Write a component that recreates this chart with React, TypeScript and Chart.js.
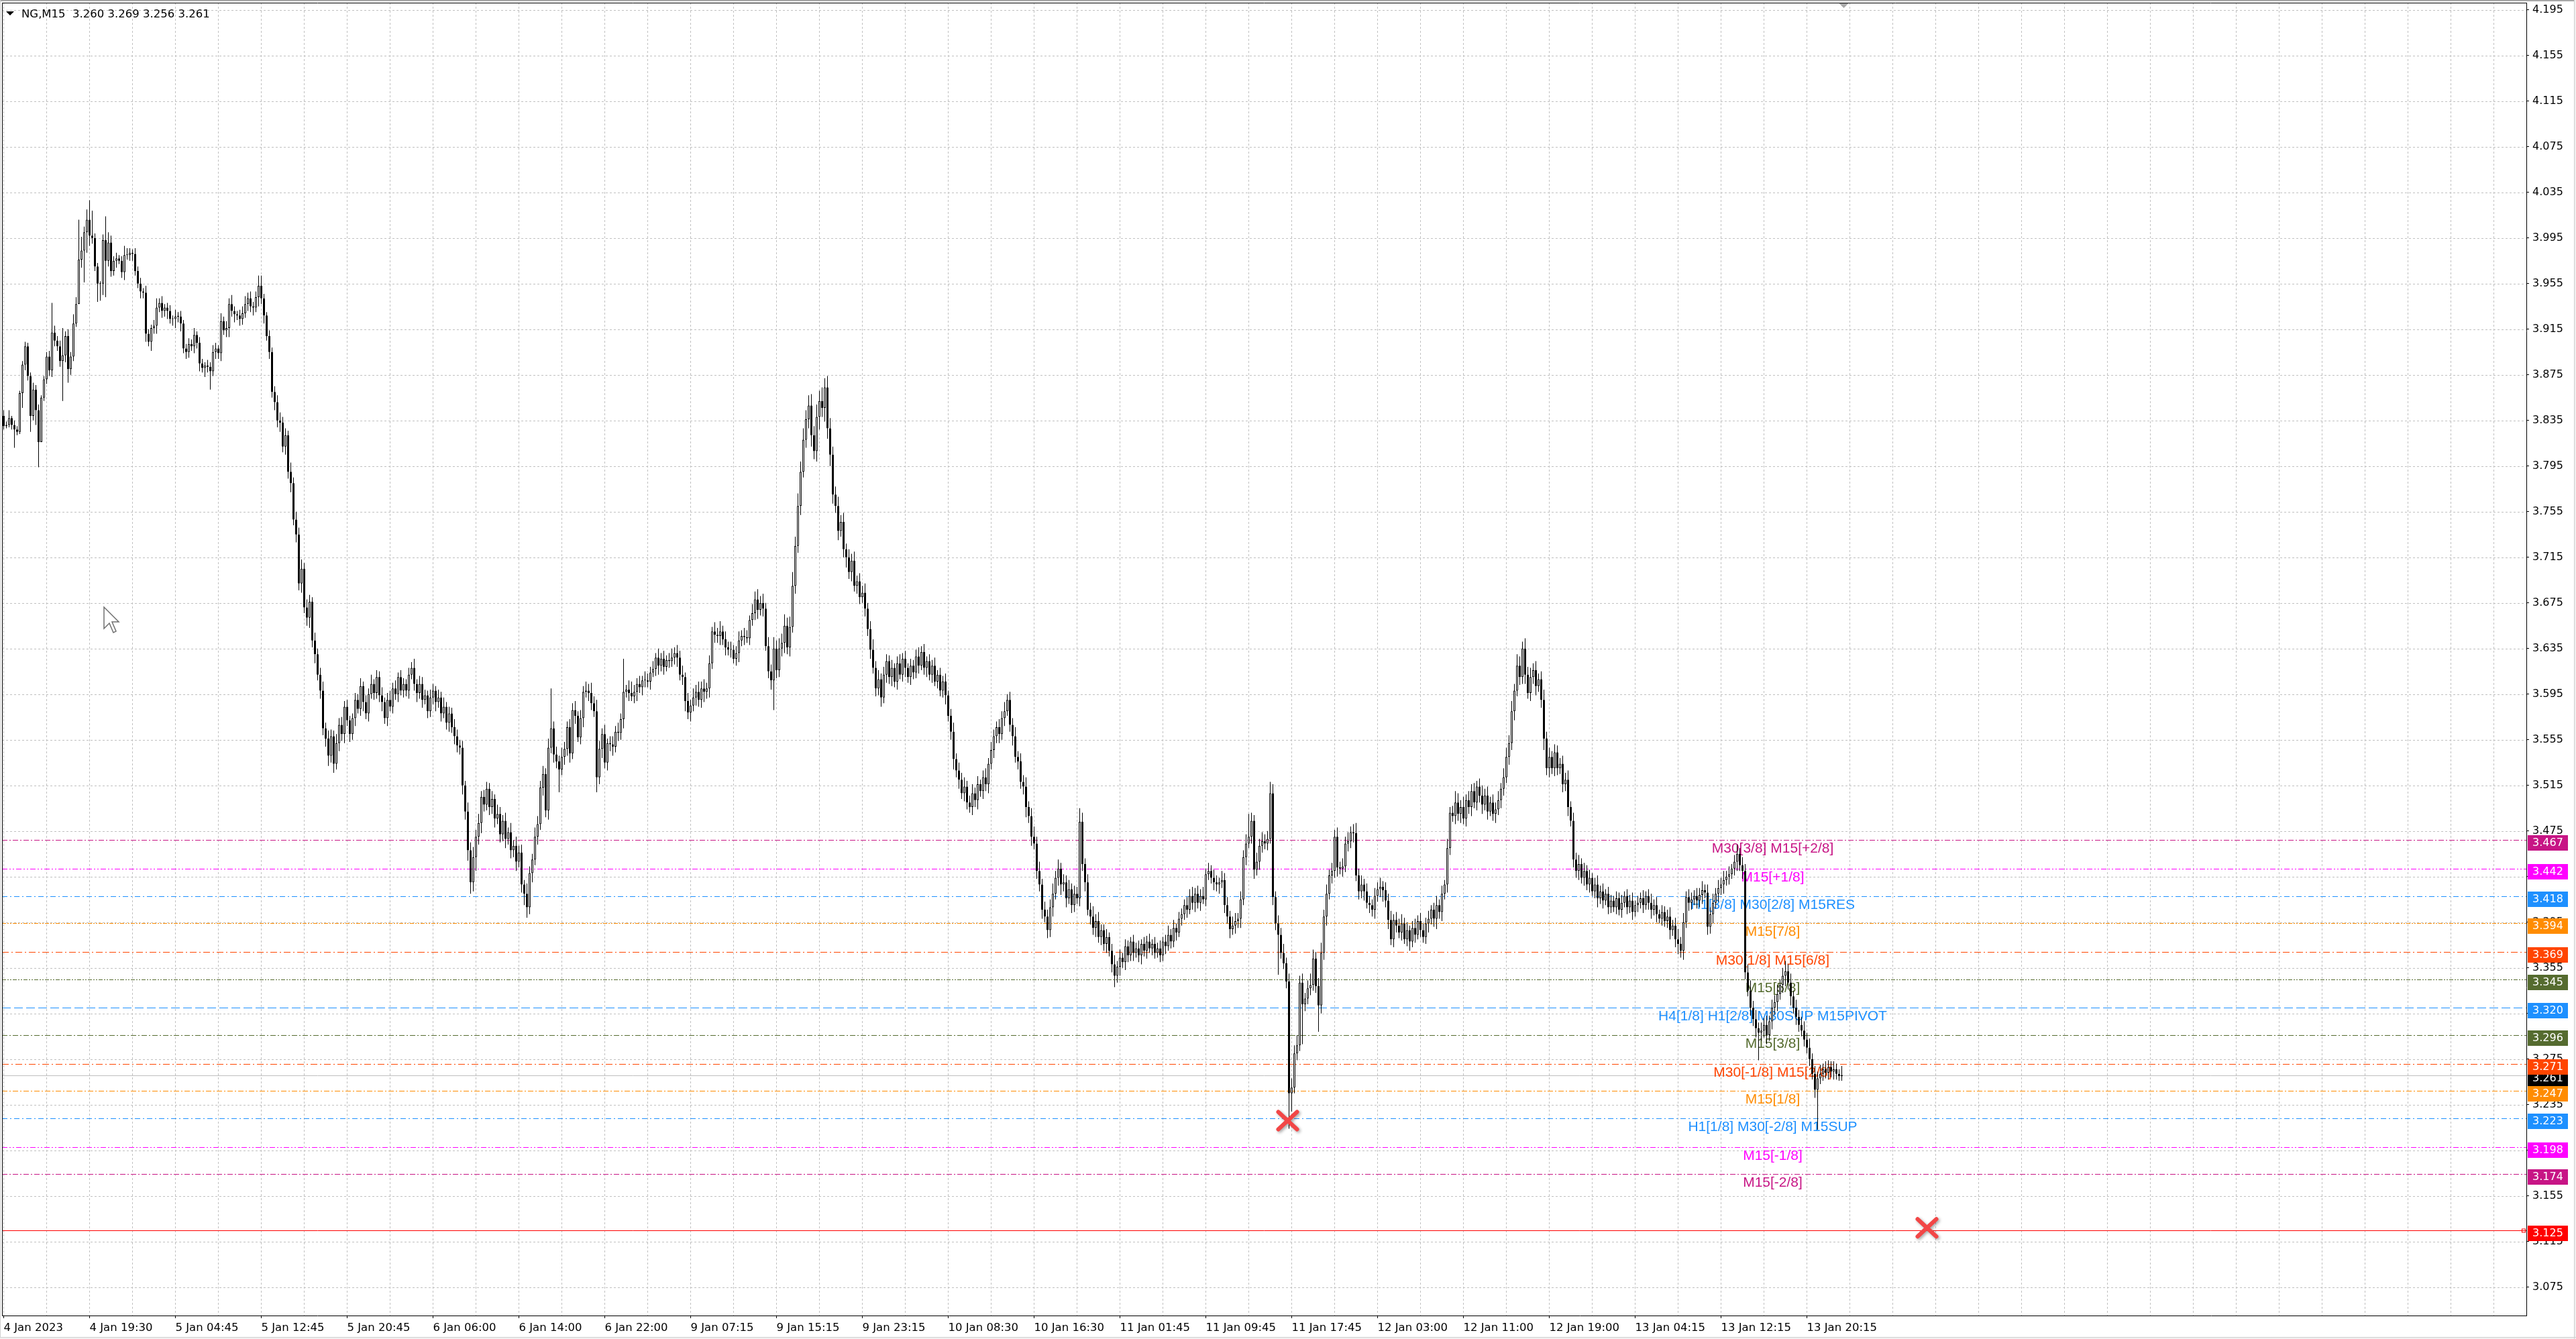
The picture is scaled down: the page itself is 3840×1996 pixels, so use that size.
import React, { useEffect, useRef } from 'react';
import { Chart, registerables } from 'chart.js';

Chart.register(...registerables);

const AXIS_FONT = '"DejaVu Sans", Tahoma, sans-serif';
const LABEL_FONT = '"Liberation Sans", Arial, sans-serif';

const HEADER_TEXT = 'NG,M15  3.260 3.269 3.256 3.261';

// M15 candles, prices in thousandths. Open of each bar = previous close.
const FIRST_OPEN = 3839;
const CLOSES = [
  3830, 3831, 3837, 3831, 3827, 3825, 3859, 3884, 3900, 3874,
  3839, 3862, 3844, 3816, 3855, 3871, 3891, 3879, 3912, 3905,
  3900, 3887, 3892, 3909, 3880, 3891, 3920, 3937, 3976, 3984,
  4000, 4011, 3997, 3995, 3970, 3955, 3955, 3993, 3975, 3991,
  3966, 3975, 3977, 3975, 3965, 3980, 3980, 3982, 3981, 3966,
  3955, 3948, 3947, 3911, 3904, 3916, 3918, 3934, 3938, 3931,
  3934, 3931, 3924, 3924, 3926, 3926, 3920, 3898, 3895, 3902,
  3900, 3910, 3903, 3885, 3881, 3883, 3882, 3878, 3895, 3898,
  3894, 3922, 3914, 3916, 3937, 3931, 3928, 3927, 3924, 3929,
  3937, 3942, 3935, 3934, 3943, 3953, 3942, 3927, 3909, 3895,
  3860, 3851, 3835, 3833, 3812, 3822, 3790, 3780, 3748, 3735,
  3692, 3705, 3671, 3662, 3676, 3642, 3630, 3612, 3598, 3565,
  3556, 3541, 3558, 3534, 3552, 3568, 3560, 3584, 3572, 3560,
  3574, 3590, 3582, 3602, 3588, 3578, 3595, 3604, 3596, 3610,
  3594, 3588, 3574, 3590, 3584, 3600, 3595, 3610, 3598, 3604,
  3598, 3612, 3618, 3604, 3596, 3604, 3590, 3594, 3580, 3592,
  3598, 3588, 3592, 3578, 3584, 3570, 3578, 3566, 3558, 3550,
  3548, 3515, 3492, 3458, 3430, 3452, 3470, 3482, 3505, 3498,
  3512, 3496, 3503, 3486, 3490, 3472, 3484, 3468, 3474, 3458,
  3462, 3448, 3456, 3428, 3420, 3408, 3438, 3450, 3470, 3481,
  3513, 3525, 3493, 3548, 3565, 3542, 3536, 3529, 3540, 3547,
  3566, 3543, 3581, 3576, 3557, 3574, 3597, 3598, 3596, 3587,
  3580, 3522, 3547, 3560, 3535, 3552, 3551, 3549, 3562, 3561,
  3573, 3597, 3599, 3596, 3593, 3597, 3604, 3601, 3607, 3607,
  3606, 3614, 3617, 3627, 3620, 3626, 3619, 3625, 3624, 3627,
  3631, 3627, 3612, 3610, 3589, 3579, 3585, 3592, 3597, 3590,
  3600, 3597, 3600, 3622, 3650, 3647, 3646, 3650, 3643, 3636,
  3634, 3634, 3626, 3631, 3642, 3646, 3645, 3644, 3660, 3666,
  3678, 3669, 3675, 3670, 3637, 3615, 3607, 3635, 3616, 3635,
  3640, 3655, 3636, 3654, 3690, 3725, 3760, 3790, 3818, 3836,
  3848, 3822, 3808, 3838, 3852, 3846, 3864, 3828, 3805, 3770,
  3760, 3738, 3746, 3722, 3715, 3702, 3712, 3690, 3694, 3680,
  3684, 3670, 3652, 3634, 3618, 3600, 3608, 3592, 3612, 3624,
  3610, 3618, 3606, 3622, 3612, 3626, 3618, 3610, 3620, 3614,
  3628, 3620, 3632, 3618, 3624, 3612, 3620, 3606, 3612, 3598,
  3606, 3594, 3576, 3562, 3538, 3528, 3520, 3508, 3514, 3500,
  3496, 3508, 3502, 3516, 3510, 3522, 3516, 3534, 3546, 3558,
  3566, 3560, 3574, 3580, 3590, 3568, 3558, 3540, 3536, 3518,
  3514, 3496, 3488, 3470, 3464, 3440, 3428, 3406, 3400, 3388,
  3408, 3420, 3434, 3442, 3428, 3430, 3416, 3424, 3410, 3420,
  3416, 3483, 3446, 3430, 3406, 3400, 3390, 3396, 3382, 3388,
  3376, 3382, 3370, 3358, 3348, 3356, 3364, 3360, 3374, 3366,
  3378, 3368, 3372, 3366, 3376, 3370, 3378, 3372, 3376, 3368,
  3372, 3366, 3378, 3374, 3384, 3378, 3390, 3386, 3398, 3402,
  3410, 3406, 3418, 3412, 3420, 3412, 3418, 3415, 3437, 3440,
  3434, 3430, 3428, 3430, 3432, 3410, 3400, 3389, 3392, 3396,
  3398, 3415, 3452, 3464, 3470, 3484, 3441, 3448, 3462, 3466,
  3464, 3468, 3508, 3417, 3394, 3384, 3368, 3359, 3343, 3245,
  3250, 3280, 3287, 3342, 3323, 3328, 3337, 3340, 3363, 3339,
  3322, 3368, 3400, 3420, 3436, 3440, 3470, 3443, 3442, 3444,
  3464, 3466, 3474, 3473, 3436, 3422, 3428, 3422, 3412, 3410,
  3406, 3418, 3424, 3426, 3423, 3414, 3397, 3380, 3397, 3392,
  3386, 3394, 3380, 3388, 3378, 3390, 3384, 3396, 3388, 3382,
  3394, 3398, 3406, 3398, 3410, 3404, 3420, 3428, 3460, 3491,
  3488, 3500, 3490, 3496, 3486, 3502, 3496, 3510, 3500, 3514,
  3506, 3498, 3506, 3492, 3500, 3490, 3494, 3502, 3512, 3522,
  3540, 3552, 3580, 3598, 3620, 3610, 3635, 3612, 3596, 3610,
  3616, 3602, 3608, 3590, 3556, 3530, 3540, 3530, 3544, 3530,
  3534, 3516, 3520, 3496, 3484, 3450, 3440, 3446, 3434, 3440,
  3428, 3434, 3422, 3428, 3416, 3422, 3414, 3420, 3408, 3414,
  3408, 3416, 3406, 3412, 3418, 3408, 3414, 3404, 3410, 3412,
  3416, 3410, 3418, 3412, 3406, 3410, 3402, 3398, 3404, 3396,
  3400, 3388, 3392, 3380, 3376, 3370, 3395, 3417, 3412, 3415,
  3418, 3414, 3419, 3423, 3421, 3391, 3402, 3412, 3420, 3425,
  3428, 3432, 3435, 3437, 3442, 3448, 3455, 3445, 3440, 3351,
  3335, 3320, 3310, 3302, 3298, 3300, 3305, 3296, 3308, 3320,
  3325, 3332, 3340, 3348, 3352, 3342, 3330, 3320, 3312, 3305,
  3300, 3292, 3285, 3275, 3262, 3248, 3258, 3262, 3266, 3263,
  3268, 3264, 3266, 3262, 3260, 3261,
];
// upper / lower wick length beyond the body, in thousandths (one base-36 digit per bar)
const WICK_UP =
  '5372432343 36452345q6 45o46486zc 59hm4325l9 6453486435 4536435846 3453645345 4635435465 3746584356 7564599435 ' +
  '4567564857 6857647568 5765867564 4657465846 5746857465 4658476547 6475846576 5648796856 6574865748 5867496587 ' +
  '6758z67586 5768475869 6a75846758 5t48a65748 6574857468 5768475869 6857486957 5746857648 7968586a79 8a79c8b9a8 ' +
  '9a8b9c8a97 7868576857 6857968576 5746857465 6857465746 5746857685 6857468576 5768576857 6857968576 7968576857 ' +
  '6c85769685 5746857465 4657465746 5746857465 5768576857 5764867587 5768k75868 67a8576857 8796857a86 7968576857 ' +
  '6857968576 5768576857 6857468576 5746857485 6a86958675 7968576858 8796a86978 6857968576 5768576857 5746857465 ' +
  '4657465746 5746857465 6857968576 5768576857 6857468576 7968576857 6857968576 7868576857 657548';
const WICK_DN =
  '3224g32d54 e4dm034565 45z6c54307 si954gfaw5 5463574564 4657485746 5746857465 4657485g46 5746857465 4657485746 ' +
  '5768576857 6857968576 7968576857 5746857465 6857465746 5746857465 6857468576 6879a8c796 5768576857 6857a96857 ' +
  '5768576k57 6857468576 5d68576857 6857468576 5746857465 6857968576 7968576857 5746857465 6857468q76 7968576857 ' +
  '8a79b8c9a8 6857968576 5768576857 6857468576 5746857465 6857968576 5768576857 6857468576 7968576857 6857968576 ' +
  '5768576857 6857a68576 5746857465 4657465746 5746857465 5768576857 6857468576 56476z556v g565z65656 n768576857 ' +
  '5768576857 6857a68576 5746857465 6857968576 5768576857 6857468576 5768576857 6857a68576 5768576857 5746857465 ' +
  '4657465746 5746857465 6857968576 5768576857 6857468576 5768o76857 6857968576 565657z565 657544';

const X_LABEL_BARS = [0, 32, 64, 96, 128, 160, 192, 224, 256, 288, 320, 352, 384, 416, 448, 480, 512, 544, 576, 608, 640, 672];
const X_LABELS = [
  '4 Jan 2023', '4 Jan 19:30', '5 Jan 04:45', '5 Jan 12:45', '5 Jan 20:45', '6 Jan 06:00',
  '6 Jan 14:00', '6 Jan 22:00', '9 Jan 07:15', '9 Jan 15:15', '9 Jan 23:15', '10 Jan 08:30',
  '10 Jan 16:30', '11 Jan 01:45', '11 Jan 09:45', '11 Jan 17:45', '12 Jan 03:00', '12 Jan 11:00',
  '12 Jan 19:00', '13 Jan 04:15', '13 Jan 12:15', '13 Jan 20:15',
];
const X_GRID_STEP = 16;
const Y_TICKS = [
  4.195, 4.155, 4.115, 4.075, 4.035, 3.995, 3.955, 3.915, 3.875, 3.835, 3.795, 3.755, 3.715, 3.675, 3.635,
  3.595, 3.555, 3.515, 3.475, 3.435, 3.395, 3.355, 3.315, 3.275, 3.235, 3.195, 3.155, 3.115, 3.075,
];

const LEVEL_PRICES = [3.467, 3.442, 3.418, 3.394, 3.369, 3.345, 3.320, 3.296, 3.271, 3.247, 3.223, 3.198, 3.174];
const LEVEL_COLORS = [
  '#C71585', '#FF00FF', '#1E90FF', '#FF8C00', '#FF4500', '#556B2F', '#1E90FF',
  '#556B2F', '#FF4500', '#FF8C00', '#1E90FF', '#FF00FF', '#C71585',
];
const LEVEL_TEXTS = [
  'M30[3/8] M15[+2/8]', 'M15[+1/8]', 'H1[3/8] M30[2/8] M15RES', 'M15[7/8]', 'M30[1/8] M15[6/8]', 'M15[5/8]',
  'H4[1/8] H1[2/8] M30SUP M15PIVOT', 'M15[3/8]', 'M30[-1/8] M15[2/8]', 'M15[1/8]', 'H1[1/8] M30[-2/8] M15SUP',
  'M15[-1/8]', 'M15[-2/8]',
];
const LEVEL_DASHES = [
  [8, 3, 2, 3], [8, 3, 2, 3, 2, 3], [8, 4, 2, 4], [6, 2, 2, 2, 2, 2], [10, 4, 2, 4], [6, 2, 2, 2, 2, 2], [13, 5],
  [8, 3, 2, 3], [10, 4, 2, 4], [8, 3, 2, 3], [8, 4, 2, 4], [8, 3, 2, 3, 2, 3], [8, 3, 2, 3],
];
const LABEL_BAR = 659.25;
const BID_PRICE = 3.261;
const RED_LINE_PRICE = 3.125;
const CROSS_BARS = [478.5, 716.75];
const CROSS_PRICES = [3.221, 3.127];
const SHIFT_BAR = 685.75;

const X_MIN = -0.625;
const X_MAX = 940.125;
const Y_MIN = 3.050118;
const Y_MAX = 4.201294;

function buildCandles() {
  const up = WICK_UP.replace(/\s/g, '');
  const dn = WICK_DN.replace(/\s/g, '');
  const bodies: any[] = [];
  const wicks: any[] = [];
  const colors: string[] = [];
  for (let i = 0; i < CLOSES.length; i++) {
    const o = i === 0 ? FIRST_OPEN : CLOSES[i - 1];
    const c = CLOSES[i];
    const u = parseInt(up[i] || '0', 36) || 0;
    const d = parseInt(dn[i] || '0', 36) || 0;
    const h = Math.max(o, c) + u;
    const l = Math.min(o, c) - d;
    bodies.push({ x: i, y: [o / 1000, c / 1000] });
    wicks.push({ x: i, y: [l / 1000, h / 1000] });
    colors.push(c >= o ? '#ffffff' : '#000000');
  }
  return { bodies, wicks, colors };
}

const overlayPlugin = {
  id: 'mt4overlay',
  beforeDraw(chart: any) {
    const { ctx, width, height } = chart;
    ctx.save();
    ctx.fillStyle = '#ffffff';
    ctx.fillRect(0, 0, width, height);
    ctx.restore();
  },
  beforeDatasetsDraw(chart: any) {
    const { ctx, chartArea: a, scales } = chart;
    const xs = scales.x;
    const ys = scales.y;
    ctx.save();
    ctx.beginPath();
    ctx.rect(a.left, a.top, a.right - a.left, a.bottom - a.top);
    ctx.clip();
    ctx.lineWidth = 1;
    ctx.strokeStyle = '#c0c0c0';
    ctx.setLineDash([3, 3]);
    for (let b = 0; ; b += X_GRID_STEP) {
      const px = xs.getPixelForValue(b);
      if (px > a.right) break;
      const xx = Math.floor(px) + 0.5;
      ctx.beginPath();
      ctx.moveTo(xx, a.top);
      ctx.lineTo(xx, a.bottom);
      ctx.stroke();
    }
    Y_TICKS.forEach((t) => {
      const yy = Math.round(ys.getPixelForValue(t)) + 0.5;
      ctx.beginPath();
      ctx.moveTo(a.left, yy);
      ctx.lineTo(a.right, yy);
      ctx.stroke();
    });
    ctx.setLineDash([]);
    ctx.strokeStyle = '#c0c0c0';
    let yy = Math.round(ys.getPixelForValue(BID_PRICE)) + 0.5;
    ctx.beginPath();
    ctx.moveTo(a.left, yy);
    ctx.lineTo(a.right, yy);
    ctx.stroke();
    LEVEL_PRICES.forEach((p, i) => {
      const ly = Math.round(ys.getPixelForValue(p)) + 0.5;
      ctx.strokeStyle = LEVEL_COLORS[i];
      ctx.setLineDash(LEVEL_DASHES[i]);
      ctx.beginPath();
      ctx.moveTo(a.left, ly);
      ctx.lineTo(a.right, ly);
      ctx.stroke();
    });
    ctx.setLineDash([]);
    ctx.strokeStyle = '#ff0000';
    yy = Math.round(ys.getPixelForValue(RED_LINE_PRICE)) + 0.5;
    ctx.beginPath();
    ctx.moveTo(a.left, yy);
    ctx.lineTo(a.right, yy);
    ctx.stroke();
    ctx.strokeRect(a.right - 6.5, yy - 2.5, 5, 5);
    ctx.font = `21px ${LABEL_FONT}`;
    ctx.textAlign = 'center';
    ctx.textBaseline = 'alphabetic';
    const lx = xs.getPixelForValue(LABEL_BAR);
    LEVEL_PRICES.forEach((p, i) => {
      const ly = ys.getPixelForValue(p);
      ctx.fillStyle = LEVEL_COLORS[i];
      ctx.fillText(LEVEL_TEXTS[i], lx, ly + 19);
    });
    ctx.restore();
  },
  afterDatasetsDraw(chart: any) {
    const { ctx, scales } = chart;
    const xs = scales.x;
    const ys = scales.y;
    ctx.save();
    ctx.strokeStyle = '#f24646';
    ctx.lineWidth = 6;
    ctx.lineCap = 'round';
    ctx.shadowColor = 'rgba(0,0,0,0.35)';
    ctx.shadowBlur = 4;
    ctx.shadowOffsetX = 2;
    ctx.shadowOffsetY = 2;
    CROSS_BARS.forEach((b, i) => {
      const cx = xs.getPixelForValue(b);
      const cy = ys.getPixelForValue(CROSS_PRICES[i]);
      const rx = 14;
      const ry = 13;
      ctx.beginPath();
      ctx.moveTo(cx - rx, cy - ry);
      ctx.lineTo(cx + rx, cy + ry);
      ctx.moveTo(cx + rx, cy - ry);
      ctx.lineTo(cx - rx, cy + ry);
      ctx.stroke();
    });
    ctx.restore();
  },
  afterDraw(chart: any) {
    const { ctx, chartArea: a, scales, width, height } = chart;
    const xs = scales.x;
    const ys = scales.y;
    ctx.save();
    ctx.strokeStyle = '#000';
    ctx.lineWidth = 1;
    ctx.beginPath();
    ctx.moveTo(a.left + 0.5, a.top);
    ctx.lineTo(a.left + 0.5, a.bottom);
    ctx.moveTo(a.left, a.top + 0.5);
    ctx.lineTo(a.right, a.top + 0.5);
    ctx.stroke();

    const drawBox = (price: number, color: string) => {
      const cy = Math.round(ys.getPixelForValue(price)) + 4;
      ctx.fillStyle = color;
      ctx.fillRect(a.right + 2, cy - 11, 60, 23);
      ctx.fillStyle = '#ffffff';
      ctx.font = `16px ${AXIS_FONT}`;
      ctx.textAlign = 'left';
      ctx.textBaseline = 'middle';
      ctx.fillText(price.toFixed(3), a.right + 9, cy + 1);
    };
    drawBox(BID_PRICE, '#000000');
    LEVEL_PRICES.forEach((p, i) => drawBox(p, LEVEL_COLORS[i]));
    drawBox(RED_LINE_PRICE, '#ff0000');

    ctx.fillStyle = '#000';
    ctx.beginPath();
    ctx.moveTo(9, 17);
    ctx.lineTo(21, 17);
    ctx.lineTo(15, 23);
    ctx.closePath();
    ctx.fill();
    ctx.font = `16.5px ${AXIS_FONT}`;
    ctx.textAlign = 'left';
    ctx.textBaseline = 'alphabetic';
    ctx.fillText(HEADER_TEXT, 32, 26);

    const sx = xs.getPixelForValue(SHIFT_BAR);
    ctx.fillStyle = '#a8a8a8';
    ctx.beginPath();
    ctx.moveTo(sx - 7, a.top + 1);
    ctx.lineTo(sx + 7, a.top + 1);
    ctx.lineTo(sx, a.top + 8);
    ctx.closePath();
    ctx.fill();

    const pts = [[0, 0], [0, 16], [4, 12], [7, 19], [9, 18], [6, 11], [11, 11]];
    ctx.beginPath();
    pts.forEach(([px, py], i) => {
      const X = 155 + px * 2;
      const Y = 905 + py * 2;
      if (i === 0) ctx.moveTo(X, Y); else ctx.lineTo(X, Y);
    });
    ctx.closePath();
    ctx.fillStyle = '#ffffff';
    ctx.fill();
    ctx.strokeStyle = '#707070';
    ctx.lineWidth = 1.5;
    ctx.stroke();

    ctx.fillStyle = '#a8a8a8';
    ctx.fillRect(0, 0, width, 2);
    ctx.fillStyle = '#d0d0d0';
    ctx.fillRect(0, 0, 1, height);
    ctx.fillStyle = '#f0f0f0';
    ctx.fillRect(width - 3, 0, 3, height);
    ctx.fillRect(0, height - 3, width, 3);
    ctx.fillStyle = '#d0d0d0';
    ctx.fillRect(width - 3, 0, 1, height);
    ctx.fillRect(0, height - 3, width, 1);
    ctx.restore();
  },
};

export default function App() {
  const canvasRef = useRef<HTMLCanvasElement | null>(null);

  useEffect(() => {
    document.body.style.margin = '0';
    document.body.style.overflow = 'hidden';
    const canvas = canvasRef.current;
    if (!canvas) return;
    Chart.defaults.font.family = AXIS_FONT;
    const { bodies, wicks, colors } = buildCandles();

    const chart = new Chart(canvas, {
      type: 'bar',
      data: {
        datasets: [
          {
            label: 'wicks',
            data: wicks,
            backgroundColor: '#000000',
            borderWidth: 0,
            barThickness: 1,
            grouped: false,
            inflateAmount: 0,
            order: 2,
          } as any,
          {
            label: 'bodies',
            data: bodies,
            backgroundColor: colors,
            borderColor: '#000000',
            borderWidth: 1,
            borderSkipped: false,
            barThickness: 3,
            minBarLength: 1,
            grouped: false,
            inflateAmount: 0,
            order: 1,
          } as any,
        ],
      },
      options: {
        animation: false,
        responsive: false,
        maintainAspectRatio: false,
        devicePixelRatio: 1,
        events: [],
        layout: { padding: { left: 3, top: 4, right: 0, bottom: 0 } },
        plugins: { legend: { display: false }, tooltip: { enabled: false } },
        scales: {
          x: {
            type: 'linear',
            position: 'bottom',
            min: X_MIN,
            max: X_MAX,
            offset: false,
            afterBuildTicks: (s: any) => {
              s.ticks = X_LABEL_BARS.map((v) => ({ value: v }));
            },
            afterFit: (s: any) => {
              s.height = 35;
              s.paddingLeft = 0;
              s.paddingRight = 0;
              s.paddingTop = 0;
              s.paddingBottom = 0;
            },
            ticks: {
              autoSkip: false,
              maxRotation: 0,
              minRotation: 0,
              align: 'start',
              padding: 5,
              color: '#000000',
              font: { family: AXIS_FONT, size: 16.5 },
              callback: (_v: any, i: number) => X_LABELS[i],
            },
            grid: { drawOnChartArea: false, drawTicks: true, tickLength: 4, color: '#000000', offset: false },
            border: { display: true, color: '#000000', width: 1 },
          },
          y: {
            type: 'linear',
            position: 'right',
            min: Y_MIN,
            max: Y_MAX,
            beginAtZero: false,
            afterBuildTicks: (s: any) => {
              s.ticks = Y_TICKS.map((v) => ({ value: v }));
            },
            afterFit: (s: any) => {
              s.width = 74;
              s.paddingLeft = 0;
              s.paddingRight = 0;
              s.paddingTop = 0;
              s.paddingBottom = 0;
            },
            ticks: {
              padding: 5,
              color: '#000000',
              font: { family: AXIS_FONT, size: 16 },
              callback: (v: any) => Number(v).toFixed(3),
            },
            grid: { drawOnChartArea: false, drawTicks: true, tickLength: 4, color: '#000000' },
            border: { display: true, color: '#000000', width: 1 },
          },
        },
      } as any,
      plugins: [overlayPlugin],
    });

    return () => {
      chart.destroy();
    };
  }, []);

  return (
    <div style={{ width: 3840, height: 1996, position: 'relative' }}>
      <canvas ref={canvasRef} width={3840} height={1996} style={{ display: 'block', width: 3840, height: 1996 }} />
    </div>
  );
}
